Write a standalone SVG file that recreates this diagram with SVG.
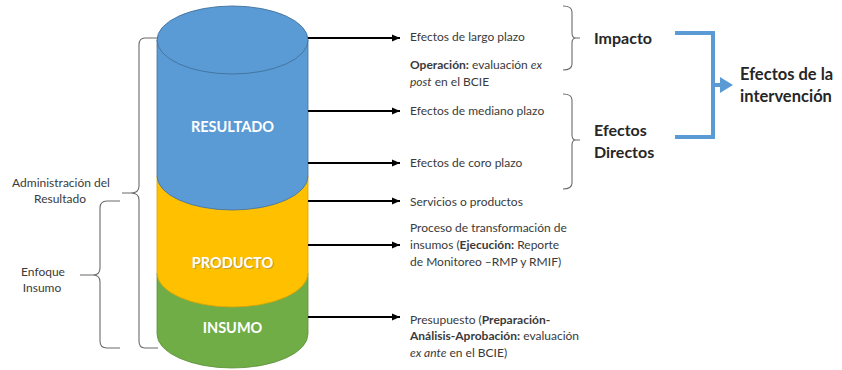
<svg xmlns="http://www.w3.org/2000/svg" width="842" height="370" viewBox="0 0 842 370">
<defs>
<style>
.t{font-family:Lato,"Open Sans","Liberation Sans",sans-serif;font-size:12px;fill:#3a3a3a}
.b{font-weight:bold}
.lbl{font-family:Lato,"Open Sans","Liberation Sans",sans-serif;font-size:14.5px;font-weight:bold;fill:#fff;text-anchor:middle}
.h{font-family:Lato,"Open Sans","Liberation Sans",sans-serif;font-weight:bold;fill:#262626}
.br{fill:none;stroke:#6b6b6b;stroke-width:1.1}
.ar{stroke:#000;stroke-width:2;fill:none;marker-end:url(#ah)}
</style>
<marker id="ah" markerUnits="userSpaceOnUse" markerWidth="9" markerHeight="8" refX="8" refY="4" orient="auto">
<path d="M0,0.5 L8,4 L0,7.5 z" fill="#000"/>
</marker>
</defs>

<g id="insumo">
<path d="M157,273 V334 A75.5,34 0 0 0 308,334 V273 Z" fill="#70AD47" stroke="#5b8f3a" stroke-width="0.8"/>
<text class="lbl" x="232.5" y="333">INSUMO</text>
</g>
<g id="producto">
<path d="M157,176 V273 A75.5,34 0 0 0 308,273 V176 Z" fill="#FFC000" stroke="#d9a400" stroke-width="0.8"/>
<text class="lbl" x="233.5" y="268.5" style="fill:#9a8a55;opacity:0.6">PRODUCTO</text>
<text class="lbl" x="232.5" y="267.5">PRODUCTO</text>
</g>
<g id="resultado">
<path d="M157,40 V176 A75.5,34 0 0 0 308,176 V40 Z" fill="#5B9BD5" stroke="#41719C" stroke-width="0.8"/>
<ellipse cx="232.5" cy="40" rx="75.5" ry="34" fill="#5B9BD5" stroke="#41719C" stroke-width="0.9"/>
<text class="lbl" x="232.5" y="132">RESULTADO</text>
</g>

<g id="connectors">
<line class="ar" x1="308" y1="38" x2="400" y2="38"/>
<line class="ar" x1="308" y1="111" x2="400" y2="111"/>
<line class="ar" x1="308" y1="163" x2="400" y2="163"/>
<line class="ar" x1="308" y1="201" x2="400" y2="201"/>
<line class="ar" x1="308" y1="245" x2="400" y2="245"/>
<line class="ar" x1="308" y1="317" x2="400" y2="317"/>
<path d="M675,33 H713 V137 H675" fill="none" stroke="#5B9BD5" stroke-width="4"/>
<line x1="713" y1="85" x2="722" y2="85" stroke="#5B9BD5" stroke-width="4"/>
<path d="M720,77 L733,85 L720,93 Z" fill="#5B9BD5"/>
</g>

<g id="brace-admin">
<path class="br" d="M158,38 H145 Q139,38 139,45 V186 Q139,193 131,193 H122 H131 Q139,193 139,200 V341 Q139,348 145,348 H158"/>
<text class="t" x="61" y="187" text-anchor="middle">Administración del</text>
<text class="t" x="60" y="203" text-anchor="middle">Resultado</text>
</g>
<g id="brace-enfoque">
<path class="br" d="M120,201 H107 Q100,201 100,208 V268 Q100,275 93,275 H80 H93 Q100,275 100,282 V341 Q100,348 107,348 H120"/>
<text class="t" x="43" y="276" text-anchor="middle">Enfoque</text>
<text class="t" x="42" y="292" text-anchor="middle">Insumo</text>
</g>

<g id="textos">
<text class="t" x="410" y="41">Efectos de largo plazo</text>
<text class="t" x="410" y="69"><tspan class="b">Operación:</tspan> evaluación <tspan font-style="italic">ex</tspan></text>
<text class="t" x="410" y="86"><tspan font-style="italic">post</tspan> en el BCIE</text>
<text class="t" x="410" y="115">Efectos de mediano plazo</text>
<text class="t" x="410" y="167">Efectos de coro plazo</text>
<text class="t" x="410" y="206">Servicios o productos</text>
<text class="t" x="410" y="232">Proceso de transformación de</text>
<text class="t" x="410" y="249">insumos (<tspan class="b">Ejecución:</tspan> Reporte</text>
<text class="t" x="410" y="266">de Monitoreo –RMP y RMIF)</text>
<text class="t" x="410" y="324">Presupuesto (<tspan class="b">Preparación-</tspan></text>
<text class="t" x="410" y="340"><tspan class="b">Análisis-Aprobación:</tspan> evaluación</text>
<text class="t" x="410" y="357"><tspan font-style="italic">ex ante</tspan> en el BCIE)</text>
</g>

<g id="impacto">
<path class="br" d="M563,6 Q572,6 572,12 V33 Q572,38 576,38 H580 H576 Q572,38 572,43 V64 Q572,70 563,70"/>
<text class="h" x="594" y="44" font-size="16">Impacto</text>
</g>
<g id="efectos-directos">
<path class="br" d="M563,94 Q572,94 572,100 V135 Q572,140 576,140 H580 H576 Q572,140 572,145 V183 Q572,189 563,189"/>
<text class="h" x="594" y="136" font-size="16">Efectos</text>
<text class="h" x="594" y="158" font-size="16">Directos</text>
</g>
<g id="efectos-intervencion">
<text class="h" x="740" y="80" font-size="16.5">Efectos de la</text>
<text class="h" x="740" y="102" font-size="16.5">intervención</text>
</g>
</svg>
